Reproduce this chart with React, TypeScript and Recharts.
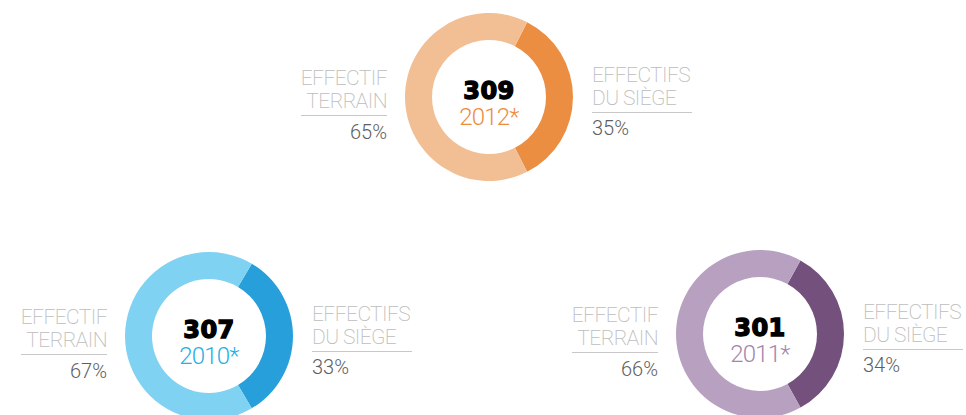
import { Cell, Pie, PieChart } from "recharts";

const years = ["2012*", "2010*", "2011*"];
const totals = [309, 307, 301];
const siegePct = [35, 33, 34];
const terrainPct = [65, 67, 66];
const leftLabel = ["EFFECTIF", "TERRAIN"];
const rightLabel = ["EFFECTIFS", "DU SIÈGE"];

const palettes = [
	{ dark: "#EC8E42", light: "#F2BE93", year: "#EE8C3E" },
	{ dark: "#279FDB", light: "#7FD2F2", year: "#27AEE4" },
	{ dark: "#73517C", light: "#B8A1C0", year: "#A486AD" },
];

const centers = [
	{ cx: 489, cy: 97 },
	{ cx: 209, cy: 336 },
	{ cx: 760, cy: 334 },
];

const W = 966;
const H = 415;
const thin = "Roboto, 'Open Sans', sans-serif";

function Txt({ x, y, align, children, style }: any) {
	const pos: any = { position: "absolute", top: y, whiteSpace: "nowrap", transform: "translateY(-50%)", lineHeight: 1 };
	if (align === "right") pos.right = W - x;
	else if (align === "center") {
		pos.left = x;
		pos.transform = "translate(-50%, -50%)";
	} else pos.left = x;
	return <div style={{ ...pos, ...style }}>{children}</div>;
}

export default function App() {
	const labelStyle = { fontFamily: thin, fontWeight: 200, fontSize: 21, color: "#BDBDBD", letterSpacing: -0.6 };
	const pctStyle = { fontFamily: thin, fontWeight: 300, fontSize: 20, color: "#5E5E5E" };
	return (
		<div style={{ position: "fixed", left: 0, top: 0, width: W, height: H, background: "#fff", overflow: "hidden" }}>
			<PieChart width={W} height={H} margin={{ top: 0, right: 0, bottom: 0, left: 0 }}>
				{centers.map((c, i) => {
					const start = (siegePct[i] / 100) * 180;
					const data = [
						{ name: "Effectifs du siège", value: siegePct[i] },
						{ name: "Effectif terrain", value: terrainPct[i] },
					];
					return (
						<Pie
							key={i}
							data={data}
							dataKey="value"
							cx={c.cx}
							cy={c.cy}
							innerRadius={57}
							outerRadius={84}
							startAngle={start}
							endAngle={start - 360}
							stroke="none"
							isAnimationActive={false}
						>
							<Cell fill={palettes[i].dark} />
							<Cell fill={palettes[i].light} />
						</Pie>
					);
				})}
			</PieChart>
			{centers.map((c, i) => (
				<div key={i}>
					<Txt
						x={c.cx}
						y={c.cy - 6}
						align="center"
						style={{ fontFamily: "'DejaVu Sans', sans-serif", fontWeight: 900, fontSize: 24, color: "#000", WebkitTextStroke: "1.4px #000", letterSpacing: 0.5 }}
					>
						{totals[i]}
					</Txt>
					<Txt x={c.cx} y={c.cy + 20} align="center" style={{ fontFamily: thin, fontWeight: 300, fontSize: 24, color: palettes[i].year, letterSpacing: -0.8 }}>
						{years[i]}
					</Txt>
					<Txt x={c.cx - 102} y={c.cy - 19} align="right" style={labelStyle}>{leftLabel[0]}</Txt>
					<Txt x={c.cx - 102} y={c.cy + 4} align="right" style={labelStyle}>{leftLabel[1]}</Txt>
					<div style={{ position: "absolute", left: c.cx - 188, top: c.cy + 18, width: 86, height: 1, background: "#C8C8C8" }} />
					<Txt x={c.cx - 102} y={c.cy + 35} align="right" style={pctStyle}>{terrainPct[i]}%</Txt>
					<Txt x={c.cx + 103} y={c.cy - 22} align="left" style={labelStyle}>{rightLabel[0]}</Txt>
					<Txt x={c.cx + 103} y={c.cy + 1} align="left" style={labelStyle}>{rightLabel[1]}</Txt>
					<div style={{ position: "absolute", left: c.cx + 103, top: c.cy + 15, width: 100, height: 1, background: "#C8C8C8" }} />
					<Txt x={c.cx + 103} y={c.cy + 31} align="left" style={pctStyle}>{siegePct[i]}%</Txt>
				</div>
			))}
		</div>
	);
}
